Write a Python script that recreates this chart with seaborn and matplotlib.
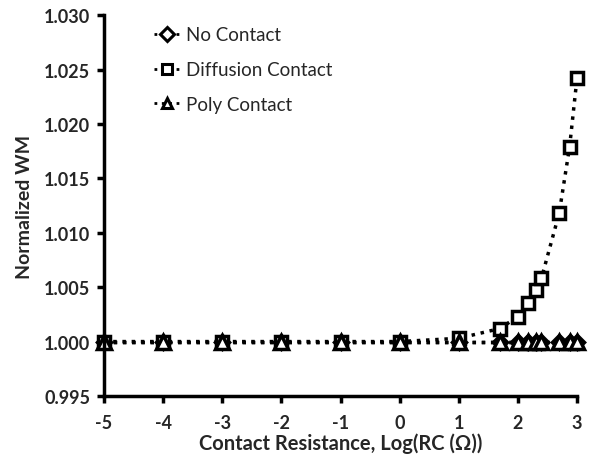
import numpy as np
import pandas as pd
import matplotlib
matplotlib.use("Agg")
import matplotlib.pyplot as plt
import seaborn as sns

# Contact resistance sweep, log10(RC in ohms)
log_rc = [-5, -4, -3, -2, -1, 0, 1, 1.699, 2.0, 2.176, 2.301, 2.398, 2.699, 2.875, 3.0]

no_contact = [1.0000] * 15
diffusion_contact = [1.0000, 1.0000, 1.0000, 1.0000, 1.0000, 1.0000, 1.0003,
                     1.0012, 1.0023, 1.0035, 1.0047, 1.0058, 1.0118, 1.0179, 1.0242]
poly_contact = [1.0000] * 15

series_names = ["No Contact", "Diffusion Contact", "Poly Contact"]
series_values = [no_contact, diffusion_contact, poly_contact]
series_markers = ["D", "s", "^"]
series_sizes = [7.5, 9, 9.5]

x_ticks = [-5, -4, -3, -2, -1, 0, 1, 2, 3]
y_ticks = [0.995, 1.000, 1.005, 1.010, 1.015, 1.020, 1.025, 1.030]

sns.set_theme(style="white")
plt.rcParams["font.family"] = ["Lato", "DejaVu Sans"]

fig = plt.figure(figsize=(5.93, 4.60), dpi=100)
ax = fig.add_axes([0.1754, 0.137, 0.7976, 0.828])

for name, vals, mk, ms in zip(series_names, series_values, series_markers, series_sizes):
    df = pd.DataFrame({"x": log_rc, "y": vals})
    sns.lineplot(data=df, x="x", y="y", ax=ax, color="black", linestyle=":",
                 linewidth=2.5, marker=mk, markersize=ms, markerfacecolor="white",
                 markeredgecolor="black", markeredgewidth=2.5, label=name,
                 clip_on=False)

ax.set_xlim(-5, 3)
ax.set_ylim(0.995, 1.030)
ax.set_xticks(x_ticks)
ax.set_yticks(y_ticks)
ax.set_xticklabels([str(t) for t in x_ticks])
ax.set_yticklabels([f"{t:.3f}" for t in y_ticks])

for s in ["top", "right"]:
    ax.spines[s].set_visible(False)
for s in ["left", "bottom"]:
    ax.spines[s].set_linewidth(2.5)
    ax.spines[s].set_color("black")

ax.tick_params(axis="both", which="major", direction="out", length=5, width=2.5,
               color="black", labelsize=13, bottom=True, left=True)
ax.tick_params(axis="x", pad=8)
ax.tick_params(axis="y", pad=5)
for lab in ax.get_xticklabels() + ax.get_yticklabels():
    lab.set_fontweight("bold")

ax.set_xlabel("Contact Resistance, Log(RC (Ω))", fontsize=14.5, fontweight="bold", labelpad=1)
ax.set_ylabel("Normalized WM", fontsize=14, fontweight="bold", labelpad=8)

leg = ax.legend(loc="upper left", bbox_to_anchor=(0.07, 1.015), frameon=False,
                fontsize=13.5, handlelength=1.4, handletextpad=0.3, labelspacing=0.95)
for h in leg.legend_handles:
    h.set_markersize(7)
    h.set_linewidth(2.0)
    h.set_markeredgewidth(2.2)

fig.savefig("out.png", dpi=100)
